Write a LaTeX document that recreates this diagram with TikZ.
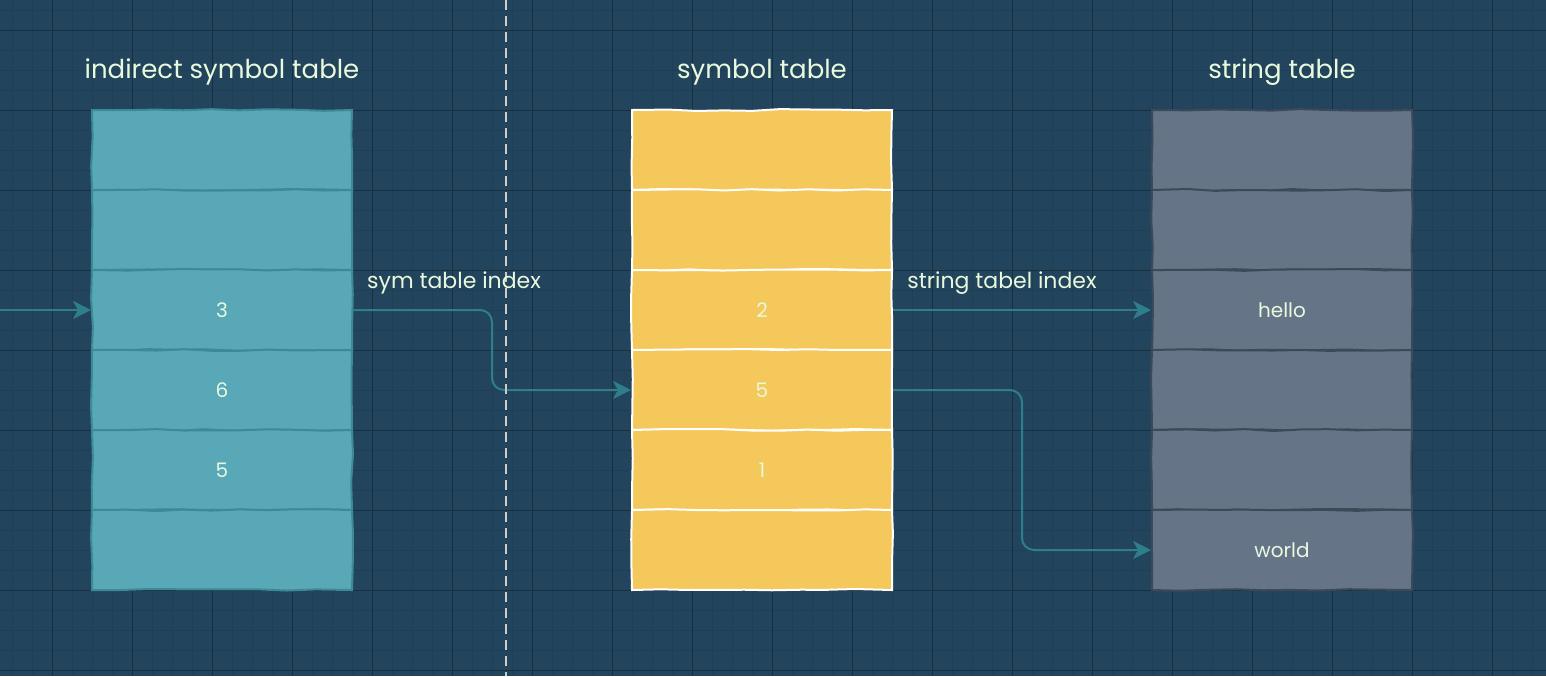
\documentclass[tikz,border=0pt]{standalone}
\usepackage{fontspec}
\setmainfont{Poppins}
\usetikzlibrary{arrows.meta,calc,decorations.pathmorphing}

\definecolor{bgblue}{HTML}{23445D}
\definecolor{minorgrid}{HTML}{1F3F55}
\definecolor{majorgrid}{HTML}{182F40}
\definecolor{tealfill}{HTML}{58A8B8}
\definecolor{tealline}{HTML}{3C8997}
\definecolor{yellowfill}{HTML}{F4C85A}
\definecolor{greyfill}{HTML}{667487}
\definecolor{greyline}{HTML}{3B4959}
\definecolor{linkcol}{HTML}{2F7E8C}
\definecolor{paletext}{HTML}{E8F9DE}

\tikzset{
  sketch/.style={decorate, decoration={random steps, segment length=14pt, amplitude=0.5pt}},
  cell/.style={draw, sketch, line width=1pt, minimum width=130pt, minimum height=40pt,
    inner sep=0pt, text=paletext, font=\fontsize{10}{12}\selectfont},
  indcell/.style={cell, fill=tealfill, draw=tealline},
  symcell/.style={cell, fill=yellowfill, draw=white},
  strcell/.style={cell, fill=greyfill, draw=greyline},
  title/.style={text=paletext, font=\fontsize{13}{15}\selectfont},
  lbl/.style={text=paletext, font=\fontsize{11}{13}\selectfont},
  link/.style={draw=linkcol, line width=1pt, rounded corners=6pt,
    -{Stealth[length=9pt, width=9pt, inset=2.5pt]}},
}

\begin{document}
\begin{tikzpicture}[x=0.5pt, y=-0.5pt]
    \pgfmathsetseed{11}
    % Background and grid
    \fill[bgblue] (0,0) rectangle (1546,676);
    \useasboundingbox (0,0) rectangle (1546,676);
    \foreach \x in {12,32,...,1546} \draw[minorgrid, line width=0.5pt] (\x,0) -- (\x,676);
    \foreach \y in {10,30,...,676} \draw[minorgrid, line width=0.5pt] (0,\y) -- (1546,\y);
    \foreach \x in {52,132,...,1546} \draw[majorgrid, line width=0.5pt] (\x,0) -- (\x,676);
    \foreach \y in {30,110,...,676} \draw[majorgrid, line width=0.5pt] (0,\y) -- (1546,\y);

    % The three tables
    \foreach \i/\t in {1/{},2/{},3/3,4/6,5/5,6/{}}
        \node[indcell] (ind\i) at (222,70+80*\i) {\t};
    \foreach \i/\t in {1/{},2/{},3/2,4/5,5/1,6/{}}
        \node[symcell] (sym\i) at (762,70+80*\i) {\t};
    \foreach \i/\t in {1/{},2/{},3/hello,4/{},5/{},6/world}
        \node[strcell] (str\i) at (1282,70+80*\i) {\t};

    % Titles
    \node[title] (indtitle) at (222,72) {indirect symbol table};
    \node[title] (symtitle) at (762,72) {symbol table};
    \node[title] (strtitle) at (1282,72) {string table};

    % Connectors
    \coordinate (in) at (0,310);
    \draw[link] (in) -- (ind3.west);
    \draw[link] (ind3.east) -| ($(ind3.east)!0.5!(sym4.west)$) |- (sym4.west);
    \draw[link] (sym3.east) -- (str3.west);
    \draw[link] (sym4.east) -| ($(sym4.east)!0.5!(str6.west)$) |- (str6.west);

    % Divider
    \draw[gray!40, line width=1pt, dash pattern=on 5pt off 3pt] (506,0) -- (506,676);

    % Labels for the connectors
    \node[lbl] (symlbl) at (454,283) {sym table index};
    \node[lbl] (strlbl) at (1002,283) {string tabel index};
\end{tikzpicture}
\end{document}
